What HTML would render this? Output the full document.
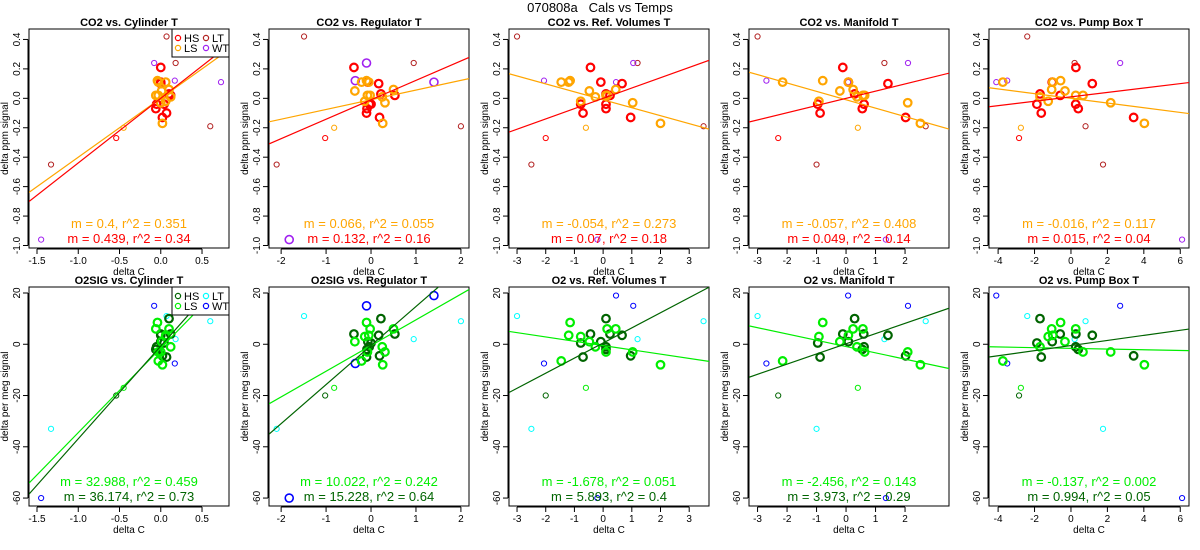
<!DOCTYPE html>
<html><head><meta charset="utf-8">
<style>
html,body{margin:0;padding:0;background:#fff;width:1200px;height:550px;overflow:hidden;}
svg{display:block;font-family:"Liberation Sans",sans-serif;overflow:hidden;}
</style></head>
<body>
<svg id="chart" width="1200" height="550" viewBox="0 0 1200 550">
<text x="600" y="12" text-anchor="middle" font-size="13" style="white-space:pre" xml:space="preserve">070808a   Cals vs Temps</text>
</svg>
<script>
// ---- data ----
const panelTitlesTop = ["CO2 vs. Cylinder T","CO2 vs. Regulator T","CO2 vs. Ref. Volumes T","CO2 vs. Manifold T","CO2 vs. Pump Box T"];
const panelTitlesBot = ["O2SIG vs. Cylinder T","O2SIG vs. Regulator T","O2 vs. Ref. Volumes T","O2 vs. Manifold T","O2 vs. Pump Box T"];
const xDomains = [[-1.597,0.827],[-2.27,2.18],[-3.28,3.69],[-3.29,3.49],[-4.5,6.48]];
const xTicks = [[-1.5,-1,-0.5,0,0.5],[-2,-1,0,1,2],[-3,-2,-1,0,1,2,3],[-3,-2,-1,0,1,2],[-4,-2,0,2,4,6]];
const xTickLabels = [["-1.5","-1.0","-0.5","0.0","0.5"],["-2","-1","0","1","2"],["-3","-2","-1","0","1","2","3"],["-3","-2","-1","0","1","2"],["-4","-2","0","2","4","6"]];
const yTicksTop = [-1.0,-0.8,-0.6,-0.4,-0.2,0.0,0.2,0.4];
const yTickLabelsTop = ["-1.0","-0.8","-0.6","-0.4","-0.2","0.0","0.2","0.4"];
const yTicksBot = [-60,-40,-20,0,20];
const yTickLabelsBot = ["-60","-40","-20","0","20"];

const hsCO2 = [0.21,0.11,0.10,0.03,0.02,-0.04,-0.04,-0.07,-0.10,-0.13];
const hsO2  = [4,1,3.5,10,4,-1,0.5,-2,-5,-4.5];
const hsX = [
 [0.0,0.0,0.0,0.1,0.12,-0.05,0.04,-0.06,0.07,0.02],
 [-0.38,-0.07,0.17,0.22,0.53,-0.04,0.0,-0.09,-0.1,0.19],
 [-0.44,-0.08,0.66,0.1,0.24,0.1,-0.78,0.1,-0.7,0.96],
 [-0.11,0.08,1.42,0.29,0.6,0.61,-0.96,0.55,-0.88,2.02],
 [0.27,-1.03,1.17,-1.7,-0.59,0.26,-1.87,0.4,-1.63,3.44]];
const lsCO2 = [0.12,0.11,0.11,0.06,0.05,0.02,0.02,0.01,-0.02,-0.03,-0.17];
const lsO2  = [8.5,-6.5,3.5,6,1,6,-3,-1,3,-3,-8];
const lsX = [
 [-0.04,-0.03,0.06,0.1,0.01,-0.06,-0.03,0.12,0.06,0.0,0.02],
 [-0.1,-0.21,-0.05,0.5,-0.36,-0.02,-0.08,0.25,-0.14,0.31,0.26],
 [-1.15,-1.46,-1.2,0.44,-0.48,0.14,0.1,-0.27,-0.78,1.03,2.0],
 [-0.79,-2.15,0.08,0.24,-0.21,0.57,0.63,0.37,-0.92,2.09,2.52],
 [-0.57,-3.74,-1.0,-1.06,-0.33,0.26,0.66,-1.7,-1.25,2.18,4.03]];
const hsThinCO2 = [-0.27], hsThinO2 = [-20];
const hsThinX = [[-0.54],[-1.02],[-2.0],[-2.3],[-2.85]];
const lsThinCO2 = [-0.2], lsThinO2 = [-17];
const lsThinX = [[-0.45],[-0.82],[-0.6],[0.4],[-2.75]];
const ltCO2 = [0.42,0.24,-0.45,-0.19];
const ltO2  = [11,2,-33,9];
const ltX = [[0.07,0.18,-1.33,0.6],[-1.49,0.95,-2.1,2.0],[-3.0,1.2,-2.5,3.5],[-3.0,1.3,-1.0,2.7],[-2.4,0.2,1.76,0.8]];
const wtCO2 = [0.24,0.12,0.11,-0.96];
const wtO2  = [15,-7.5,19,-60];
const wtX = [[-0.08,0.17,0.73,-1.45],[-0.1,-0.35,1.4,-1.82],[1.05,-2.06,0.45,-0.2],[2.1,-2.7,0.07,1.35],[2.7,-3.5,-4.1,6.1]];

const slopeTopLS = [0.4,0.066,-0.054,-0.057,-0.016];
const interTopLS = [0.0,-0.01,-0.01,-0.01,0.0];
const slopeTopHS = [0.439,0.132,0.07,0.049,0.015];
const interTopHS = [0.0,-0.01,0.0,0.0,0.01];
const slopeBotLS = [32.988,10.022,-1.678,-2.456,-0.137];
const interBotLS = [-1.5,-0.5,-0.5,-0.9,-1.6];
const slopeBotHS = [36.174,15.228,5.893,3.973,0.994];
const interBotHS = [-0.7,-0.5,0.5,0.2,-0.5];
const annTopLS = ["m = 0.4, r^2 = 0.351","m = 0.066, r^2 = 0.055","m = -0.054, r^2 = 0.273","m = -0.057, r^2 = 0.408","m = -0.016, r^2 = 0.117"];
const annTopHS = ["m = 0.439, r^2 = 0.34","m = 0.132, r^2 = 0.16","m = 0.07, r^2 = 0.18","m = 0.049, r^2 = 0.14","m = 0.015, r^2 = 0.04"];
const annBotLS = ["m = 32.988, r^2 = 0.459","m = 10.022, r^2 = 0.242","m = -1.678, r^2 = 0.051","m = -2.456, r^2 = 0.143","m = -0.137, r^2 = 0.002"];
const annBotHS = ["m = 36.174, r^2 = 0.73","m = 15.228, r^2 = 0.64","m = 5.893, r^2 = 0.4","m = 3.973, r^2 = 0.29","m = 0.994, r^2 = 0.05"];

const NS = "http://www.w3.org/2000/svg";
const svg = document.getElementById("chart");
function mk(parent, tag, attrs, txt){
  const e = document.createElementNS(NS, tag);
  for (const k in attrs) e.setAttribute(k, attrs[k]);
  if (txt !== undefined) e.textContent = txt;
  parent.appendChild(e);
  return e;
}
const defs = mk(svg, "defs", {});
const rows = [
 {top:29,bottom:248,dom:[-1.017,0.471],ticks:yTicksTop,tl:yTickLabelsTop,titles:panelTitlesTop,ylab:"delta ppm signal",
  cHS:"#ff0000",cLS:"#ffa500",cLT:"#b22222",cWT:"#a020f0",hsY:hsCO2,lsY:lsCO2,hsTY:hsThinCO2,lsTY:lsThinCO2,ltY:ltCO2,wtY:wtCO2,
  sLS:slopeTopLS,iLS:interTopLS,sHS:slopeTopHS,iHS:interTopHS,aLS:annTopLS,aHS:annTopHS,key:"co2"},
 {top:287,bottom:506,dom:[-63.1,22.34],ticks:yTicksBot,tl:yTickLabelsBot,titles:panelTitlesBot,ylab:"delta per meg signal",
  cHS:"#006400",cLS:"#00ee00",cLT:"#00ffff",cWT:"#0000ff",hsY:hsO2,lsY:lsO2,hsTY:hsThinO2,lsTY:lsThinO2,ltY:ltO2,wtY:wtO2,
  sLS:slopeBotLS,iLS:interBotLS,sHS:slopeBotHS,iHS:interBotHS,aLS:annBotLS,aHS:annBotHS,key:"o2"}
];
rows.forEach((R, ri) => {
  for (let p = 0; p < 5; p++) {
    const L = 29 + 240*p;
    const xs = v => L + (v - xDomains[p][0]) / (xDomains[p][1] - xDomains[p][0]) * 200;
    const ys = v => R.bottom - (v - R.dom[0]) / (R.dom[1] - R.dom[0]) * (R.bottom - R.top);
    const g = mk(svg, "g", {});
    
    
    const cid = `clip-${ri}-${p}`;
    const cp = mk(defs, "clipPath", {id: cid});
    mk(cp, "rect", {x:L, y:R.top, width:200, height:R.bottom-R.top});
    const t = mk(g, "text", {x:L+100, y:R.top-3, "text-anchor":"middle", "font-size":"11", "font-weight":"bold"}, R.titles[p]);
    
    
    const xa = mk(g, "g", {});
    
    
    const tk = xTicks[p];
    mk(xa, "line", {x1:xs(tk[0]), x2:xs(tk[tk.length-1]), y1:R.bottom+1, y2:R.bottom+1, stroke:"#000", "stroke-width":1});
    tk.forEach((v,i) => {
      mk(xa, "line", {x1:xs(v), x2:xs(v), y1:R.bottom+1, y2:R.bottom+6, stroke:"#000", "stroke-width":1});
      const lt = mk(xa, "text", {x:xs(v), y:R.bottom+16, "text-anchor":"middle", "font-size":"10"}, xTickLabels[p][i]);
      
      
    });
    const xl = mk(g, "text", {x:L+100, y:R.bottom+27, "text-anchor":"middle", "font-size":"10"}, "delta C");
    
    
    const ya = mk(g, "g", {});
    
    
    mk(ya, "line", {x1:L-1, x2:L-1, y1:ys(R.ticks[0]), y2:ys(R.ticks[R.ticks.length-1]), stroke:"#000", "stroke-width":1});
    R.ticks.forEach((v,i) => {
      mk(ya, "line", {x1:L-6, x2:L-1, y1:ys(v), y2:ys(v), stroke:"#000", "stroke-width":1});
      const yt = mk(ya, "text", {x:0, y:0, "text-anchor":"middle", "font-size":"10", transform:`translate(${L-9},${ys(v)}) rotate(-90)`}, R.tl[i]);
      
      
    });
    const yl = mk(g, "text", {x:0, y:0, "text-anchor":"middle", "font-size":"10", transform:`translate(${L-21},${(R.top+R.bottom)/2}) rotate(-90)`}, R.ylab);
    
    
    const box = mk(g, "rect", {x:L, y:R.top, width:200, height:R.bottom-R.top, fill:"none", stroke:"#000", "stroke-width":1});
    
    
    const pl = mk(g, "g", {"clip-path":`url(#${cid})`});
    function pts(xArr, yArr, col, r, sw, nm){
      xArr.forEach((xv, i) => {
        const c = mk(pl, "circle", {cx:xs(xv), cy:ys(yArr[i]), r:r, fill:"none", stroke:col, "stroke-width":sw});
        
        
      });
    }
    pts(ltX[p], R.ltY, R.cLT, 2.6, 1, 'point-lt');
    pts(wtX[p], R.wtY, R.cWT, p===1?4:2.6, p===1?1.6:1, 'point-wt');
    pts(hsThinX[p], R.hsTY, R.cHS, 2.6, 1, 'point-hs-thin');
    pts(lsThinX[p], R.lsTY, R.cLS, 2.6, 1, 'point-ls-thin');
    pts(hsX[p], R.hsY, R.cHS, 3.8, 2.2, 'point-hs');
    pts(lsX[p], R.lsY, R.cLS, 3.8, 2.2, 'point-ls');
    const d = xDomains[p];
    const fl = mk(pl, "line", {x1:xs(d[0]), y1:ys(R.sLS[p]*d[0]+R.iLS[p]), x2:xs(d[1]), y2:ys(R.sLS[p]*d[1]+R.iLS[p]), stroke:R.cLS, "stroke-width":1.2});
    
    
    const fh = mk(pl, "line", {x1:xs(d[0]), y1:ys(R.sHS[p]*d[0]+R.iHS[p]), x2:xs(d[1]), y2:ys(R.sHS[p]*d[1]+R.iHS[p]), stroke:R.cHS, "stroke-width":1.2});
    
    
    const a1 = mk(g, "text", {x:L+100, y:R.bottom-20, "text-anchor":"middle", "font-size":"13", fill:R.cLS}, R.aLS[p]);
    
    
    const a2 = mk(g, "text", {x:L+100, y:R.bottom-5, "text-anchor":"middle", "font-size":"13", fill:R.cHS}, R.aHS[p]);
    
    
    if (p === 0) {
      const lg = mk(g, "g", {});
      
      
      mk(lg, "rect", {x:172, y:R.top, width:57, height:28, fill:"#fff", stroke:"#000", "stroke-width":1});
      const ent = [["HS",R.cHS,178,R.top+9],["LS",R.cLS,178,R.top+19],["LT",R.cLT,206,R.top+9],["WT",R.cWT,206,R.top+19]];
      ent.forEach(e => {
        const eg = mk(lg, "g", {});
        
        
        mk(eg, "circle", {cx:e[2], cy:e[3], r:2.6, fill:"none", stroke:e[1], "stroke-width":1.2});
        mk(eg, "text", {x:e[2]+6, y:e[3]+4, "font-size":"11"}, e[0]);
      });
    }
  }
});
</script>
</body></html>
